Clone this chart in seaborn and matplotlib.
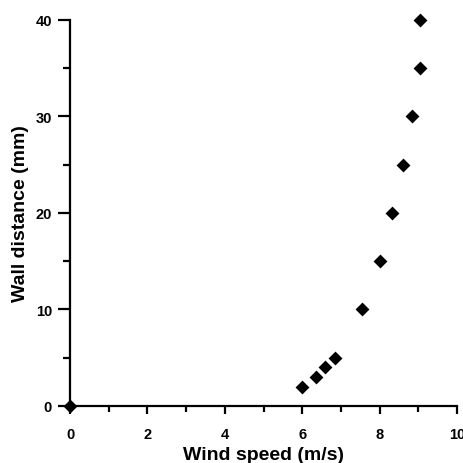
import numpy as np
import pandas as pd
import matplotlib
matplotlib.use("Agg")
import matplotlib.pyplot as plt
import seaborn as sns
from matplotlib.ticker import MultipleLocator

sns.set_style("ticks")
plt.rcParams['font.family'] = ['Liberation Sans', 'DejaVu Sans']
plt.rcParams['font.weight'] = 'bold'
for key in ['text.color', 'axes.labelcolor', 'xtick.color', 'ytick.color', 'axes.edgecolor']:
    plt.rcParams[key] = 'black'

# wind speed vs wall distance
wind_speed = [0, 6.0, 6.35, 6.6, 6.85, 7.55, 8.0, 8.33, 8.6, 8.83, 9.03, 9.03]
wall_distance = [0, 2, 3, 4, 5, 10, 15, 20, 25, 30, 35, 40]
df = pd.DataFrame({'speed': wind_speed, 'distance': wall_distance})

fig = plt.figure(figsize=(4.64, 4.64), dpi=100)
ax = fig.add_axes([0.151, 0.123, 0.834, 0.832])

sns.scatterplot(x='speed', y='distance', data=df, ax=ax, marker='D', color='black',
                s=50, edgecolor='black', linewidth=0, clip_on=False, zorder=3)

ax.set_xlim(0, 10)
ax.set_ylim(0, 40)
ax.xaxis.set_major_locator(MultipleLocator(2))
ax.xaxis.set_minor_locator(MultipleLocator(1))
ax.yaxis.set_major_locator(MultipleLocator(10))
ax.yaxis.set_minor_locator(MultipleLocator(5))

sns.despine(ax=ax)
for sp in ['left', 'bottom']:
    ax.spines[sp].set_linewidth(1.6)
ax.tick_params(axis='x', which='major', length=6, width=1.6, labelsize=10.5, pad=9)
ax.tick_params(axis='x', which='minor', length=4, width=1.6)
ax.tick_params(axis='y', which='major', length=9, width=1.6, labelsize=10.5, pad=4)
ax.tick_params(axis='y', which='minor', length=5, width=1.6)
for lab in ax.get_xticklabels() + ax.get_yticklabels():
    lab.set_fontweight('bold')

ax.set_xlabel("Wind speed (m/s)", fontsize=14, fontweight='bold', labelpad=4)
ax.set_ylabel("Wall distance (mm)", fontsize=14, fontweight='bold', labelpad=5)

fig.savefig("out.png", dpi=100)
